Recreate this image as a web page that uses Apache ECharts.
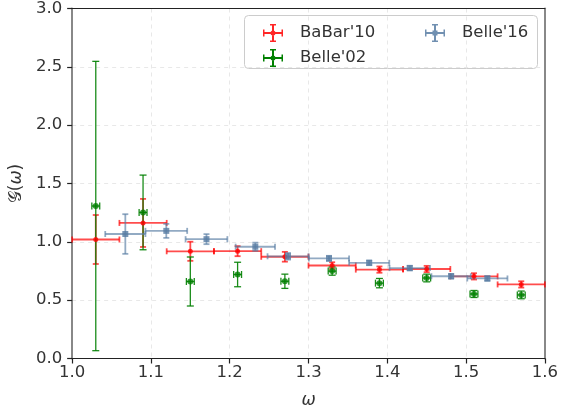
<!DOCTYPE html>
<html>
<head>
<meta charset="utf-8">
<script src="https://cdn.jsdelivr.net/npm/echarts@6/dist/echarts.min.js"></script>
<style>html,body{margin:0;padding:0;background:#fff;}#c{width:561px;height:415px;}</style>
</head>
<body>
<div id="c"></div>
<script>
// ---- data ----
const xBaBar    = [1.03, 1.09, 1.15, 1.21, 1.27, 1.33, 1.39, 1.45, 1.51, 1.57];
const xErrBaBar = [0.03, 0.03, 0.03, 0.03, 0.03, 0.03, 0.03, 0.03, 0.03, 0.03];
const yBaBar    = [1.02, 1.162, 0.919, 0.92, 0.872, 0.797, 0.762, 0.767, 0.704, 0.635];
const yErrBaBar = [0.21, 0.206, 0.082, 0.043, 0.042, 0.028, 0.027, 0.027, 0.027, 0.027];

const xBelle02    = [1.03, 1.09, 1.15, 1.21, 1.27, 1.33, 1.39, 1.45, 1.51, 1.57];
const xErrBelle02 = [0.005, 0.005, 0.005, 0.005, 0.005, 0.005, 0.005, 0.005, 0.005, 0.005];
const yBelle02    = [1.307, 1.252, 0.66, 0.72, 0.662, 0.749, 0.646, 0.69, 0.553, 0.545];
const yErrBelle02 = [1.24, 0.32, 0.21, 0.105, 0.061, 0.035, 0.04, 0.033, 0.03, 0.033];

const xBelle16    = [1.0675, 1.1195, 1.1705, 1.2325, 1.274, 1.326, 1.377, 1.4285, 1.481, 1.527];
const xErrBelle16 = [0.0255, 0.0265, 0.0265, 0.025, 0.026, 0.0255, 0.0255, 0.0257, 0.025, 0.0255];
const yBelle16    = [1.067, 1.094, 1.023, 0.958, 0.876, 0.858, 0.82, 0.775, 0.705, 0.686];
const yErrBelle16 = [0.17, 0.06, 0.043, 0.035, 0.028, 0.022, 0.02, 0.02, 0.02, 0.02];

const xTicks = [1.0, 1.1, 1.2, 1.3, 1.4, 1.5, 1.6];
const yTicks = [0.0, 0.5, 1.0, 1.5, 2.0, 2.5, 3.0];

const RED = '#ff0000', GREEN = '#008000', BLUE = '#587ca3';
const FONT = 'DejaVu Sans';

function errRender(color, lw, cap, opacity) {
  return function (params, api) {
    const x = api.value(0), y = api.value(1), xe = api.value(2), ye = api.value(3);
    const l = api.coord([x - xe, y]), r = api.coord([x + xe, y]);
    const t = api.coord([x, y + ye]), b = api.coord([x, y - ye]);
    const st = {stroke: color, lineWidth: lw, opacity: opacity};
    const ln = (x1, y1, x2, y2) => ({type: 'line', shape: {x1, y1, x2, y2}, style: st});
    return {type: 'group', children: [
      ln(l[0], l[1], r[0], r[1]),
      ln(l[0], l[1] - cap, l[0], l[1] + cap),
      ln(r[0], r[1] - cap, r[0], r[1] + cap),
      ln(t[0], t[1], b[0], b[1]),
      ln(t[0] - cap, t[1], t[0] + cap, t[1]),
      ln(b[0] - cap, b[1], b[0] + cap, b[1])
    ]};
  };
}
function pack(xs, ys, xe, ye) { return xs.map((v, i) => [v, ys[i], xe[i], ye[i]]); }

const ICON = 'path://M0 8H20V10H0Z M0 5.5H1.5V12.5H0Z M18.5 5.5H20V12.5H18.5Z M9 0H11V18H9Z M7 0H13V1.5H7Z M7 16.5H13V18H7Z M12.5 9A2.5 2.5 0 1 1 7.5 9A2.5 2.5 0 1 1 12.5 9Z';
const ICONSQ = 'path://M0 8H20V10H0Z M0 5.5H1.5V12.5H0Z M18.5 5.5H20V12.5H18.5Z M9 0H11V18H9Z M7 0H13V1.5H7Z M7 16.5H13V18H7Z M7.5 6.5H12.5V11.5H7.5Z';

const chart = echarts.init(document.getElementById('c'), null, {renderer: 'canvas'});
const axisText = {color: '#333', fontFamily: FONT, fontSize: 16.5};
const gridLine = {show: true, showMinLine: false, showMaxLine: false,
  lineStyle: {color: '#e8e8e8', type: [4, 4], width: 1}};
const legendCommon = {
  orient: 'vertical', top: 19, itemWidth: 20, itemHeight: 18, itemGap: 7,
  textStyle: {color: '#333', fontFamily: FONT, fontSize: 16.5, padding: [0, 0, 0, 12]}
};
chart.setOption({
  animation: false,
  backgroundColor: '#fff',
  grid: {left: 72, right: 15, top: 8, bottom: 56.5, show: false},
  graphic: [{
    type: 'rect', left: 244, top: 15, z: -1,
    shape: {width: 293, height: 53, r: 4},
    style: {fill: 'rgba(255,255,255,0.8)', stroke: '#cccccc', lineWidth: 1}
  }],
  legend: [
    Object.assign({left: 258, data: [
      {name: "BaBar'10", icon: ICON, itemStyle: {color: RED, opacity: 0.85}},
      {name: "Belle'02", icon: ICON, itemStyle: {color: GREEN}}
    ]}, legendCommon),
    Object.assign({left: 420, data: [
      {name: "Belle'16", icon: ICONSQ, itemStyle: {color: BLUE, opacity: 0.85}}
    ]}, legendCommon)
  ],
  xAxis: [{
    type: 'value', min: 1.0, max: 1.6, interval: 0.1,
    name: 'ω', nameLocation: 'middle', nameGap: 34,
    nameTextStyle: {color: '#333', fontFamily: FONT, fontSize: 17, fontStyle: 'italic'},
    axisLine: {show: true, onZero: false, lineStyle: {color: '#222', width: 1.2}},
    axisTick: {show: true, length: 5, lineStyle: {color: '#222', width: 1.2}},
    axisLabel: Object.assign({margin: 6, formatter: v => v.toFixed(1)}, axisText),
    splitLine: gridLine
  }, {
    type: 'value', position: 'top', min: 1.0, max: 1.6, interval: 0.1,
    axisLine: {show: true, onZero: false, lineStyle: {color: '#222', width: 1.2}},
    axisTick: {show: false}, axisLabel: {show: false}, splitLine: {show: false}
  }],
  yAxis: [{
    type: 'value', min: 0, max: 3.0, interval: 0.5,
    name: '{g|𝒢}{p|(}{w|ω}{p|)}', nameLocation: 'middle', nameGap: 38, nameRotate: 90,
    nameTextStyle: {color: '#333', fontFamily: FONT, fontSize: 17, rich: {
      g: {fontFamily: FONT, fontSize: 17, color: '#333'},
      p: {fontFamily: FONT, fontSize: 17, color: '#333'},
      w: {fontFamily: FONT, fontSize: 17, color: '#333', fontStyle: 'italic'}
    }},
    axisLine: {show: true, onZero: false, lineStyle: {color: '#888', width: 2}},
    axisTick: {show: true, length: 5, lineStyle: {color: '#222', width: 1.2}},
    axisLabel: Object.assign({margin: 10, formatter: v => v.toFixed(1)}, axisText),
    splitLine: gridLine
  }, {
    type: 'value', position: 'right', min: 0, max: 3.0, interval: 0.5,
    axisLine: {show: true, onZero: false, lineStyle: {color: '#888', width: 2}},
    axisTick: {show: false}, axisLabel: {show: false}, splitLine: {show: false}
  }],
  series: [
    {name: "BaBar'10", type: 'custom', renderItem: errRender(RED, 1.8, 3, 0.7),
     data: pack(xBaBar, yBaBar, xErrBaBar, yErrBaBar), encode: {x: 0, y: 1}, z: 2},
    {name: "BaBar'10", type: 'scatter', symbol: 'circle', symbolSize: 5,
     itemStyle: {color: RED}, data: xBaBar.map((v, i) => [v, yBaBar[i]]), z: 3},
    {name: "Belle'02", type: 'custom', renderItem: errRender(GREEN, 1.3, 3.5, 0.9),
     data: pack(xBelle02, yBelle02, xErrBelle02, yErrBelle02), encode: {x: 0, y: 1}, z: 2},
    {name: "Belle'02", type: 'scatter', symbol: 'circle', symbolSize: 6,
     itemStyle: {color: GREEN}, data: xBelle02.map((v, i) => [v, yBelle02[i]]), z: 3},
    {name: "Belle'16", type: 'custom', renderItem: errRender(BLUE, 1.8, 3, 0.65),
     data: pack(xBelle16, yBelle16, xErrBelle16, yErrBelle16), encode: {x: 0, y: 1}, z: 2},
    {name: "Belle'16", type: 'scatter', symbol: 'rect', symbolSize: 6,
     itemStyle: {color: BLUE}, data: xBelle16.map((v, i) => [v, yBelle16[i]]), z: 3}
  ]
});
</script>
</body>
</html>
